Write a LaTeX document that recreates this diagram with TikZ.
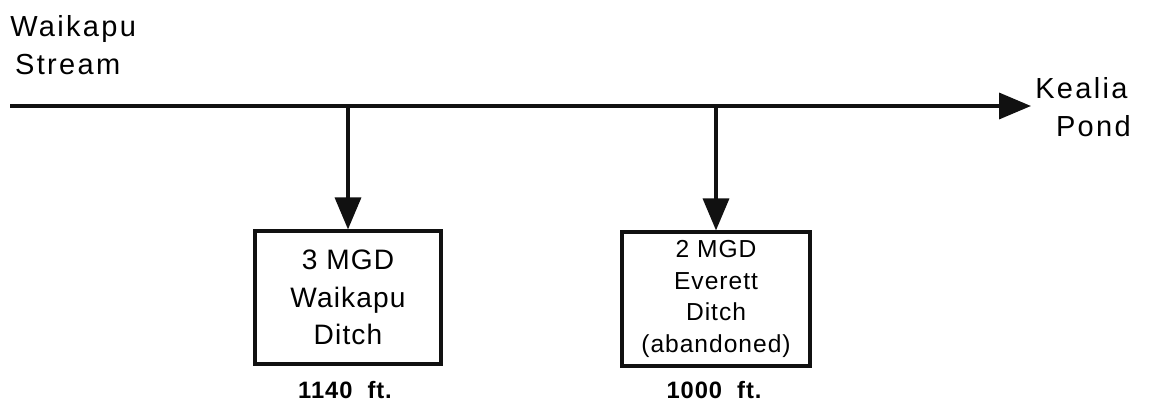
\documentclass[tikz,border=0pt]{standalone}
\usepackage{fontspec}
\setmainfont{Liberation Sans}
\newfontfamily\widesans[LetterSpace=8]{Liberation Sans}
\newfontfamily\boxsans[LetterSpace=4]{Liberation Sans}
\usepackage{tikz}
\usetikzlibrary{arrows.meta,positioning}
\definecolor{inkBlack}{HTML}{111111}
\tikzset{
  ditchbox/.style={draw=inkBlack, line width=1.8pt, align=center,
        inner sep=0pt, font=\boxsans\fontsize{16}{21.3}\selectfont},
  place/.style={align=left, inner sep=0pt, font=\widesans\fontsize{16.5}{21.5}\selectfont},
  dist/.style={inner sep=0pt, font=\boxsans\bfseries\fontsize{13.5}{16}\selectfont},
  flow/.style={-{Triangle[length=6.4mm, width=5.2mm]}, line width=2pt, draw=inkBlack}
}

\begin{document}
\begin{tikzpicture}[x=0.02cm, y=-0.02cm]
\useasboundingbox (0,0) rectangle (1151,405);

\node[place, anchor=west] (src) at (10,45) {Waikapu\\ \,Stream};
\node[place, anchor=east] (pond) at (1131,107) {Kealia\\ \ \ Pond};
\coordinate (start) at (10,106);
\coordinate (tip) at (1031,106);

\node[ditchbox, minimum width=186*0.02cm, minimum height=133*0.02cm]
  (wd) at (348,297.5) {3 MGD\\ Waikapu\\ Ditch};
\node[ditchbox, minimum width=188*0.02cm, minimum height=134*0.02cm,
      font=\boxsans\fontsize{14}{17.9}\selectfont]
  (ed) at (716,299) {2 MGD\\ Everett\\ Ditch\\ (abandoned)};

\node[dist] (wdlen) at (345,390) {1140\ \ ft.};
\node[dist] (edlen) at (714,390) {1000\ \ ft.};

\draw[flow] (start) -- (tip);
\draw[flow] (wd.north |- start) -- (wd.north);
\draw[flow] (ed.north |- start) -- (ed.north);
\end{tikzpicture}
\end{document}
